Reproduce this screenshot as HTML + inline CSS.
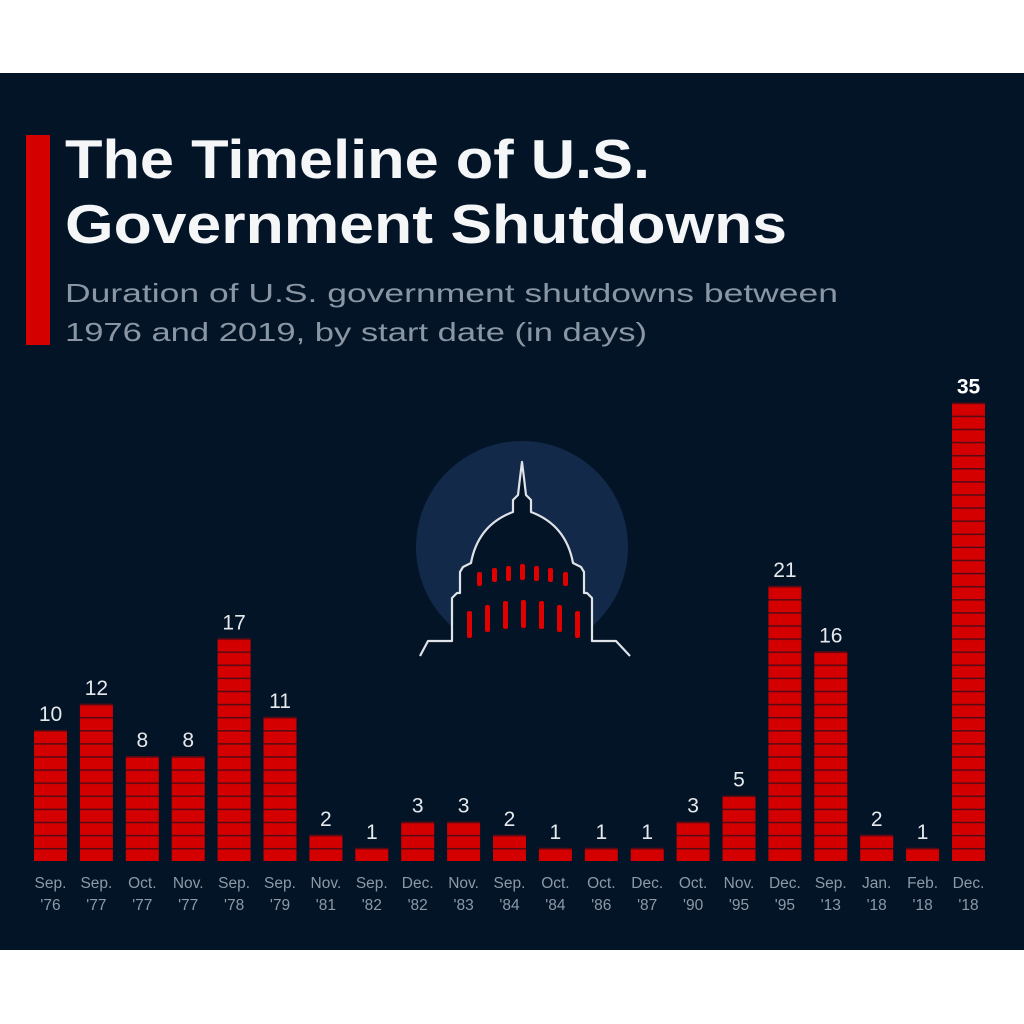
<!DOCTYPE html>
<html><head><meta charset="utf-8"><style>
html,body{margin:0;padding:0;background:#fff;}
svg{display:block;}
</style></head><body>
<svg width="1024" height="1024" viewBox="0 0 1024 1024" xmlns="http://www.w3.org/2000/svg" font-family="'Liberation Sans', sans-serif">
<defs>
<pattern id="seg" x="0" y="861" width="40" height="13.1" patternUnits="userSpaceOnUse">
<rect x="0" y="0" width="40" height="13.1" fill="#d40000"/>
<rect x="0" y="0" width="40" height="1.6" fill="#5a0a14"/>
</pattern>
</defs>
<rect x="0" y="73" width="1024" height="877" fill="#031427"/>
<rect x="26" y="135" width="24" height="210" fill="#d40000"/>
<text x="65" y="178" font-size="55" font-weight="bold" fill="#f4f6f8" textLength="585" lengthAdjust="spacingAndGlyphs">The Timeline of U.S.</text>
<text x="65" y="243" font-size="55" font-weight="bold" fill="#f4f6f8" textLength="722" lengthAdjust="spacingAndGlyphs">Government Shutdowns</text>
<text x="65" y="302" font-size="26" fill="#8a96a3" textLength="773" lengthAdjust="spacingAndGlyphs">Duration of U.S. government shutdowns between</text>
<text x="65" y="341" font-size="26" fill="#8a96a3" textLength="582" lengthAdjust="spacingAndGlyphs">1976 and 2019, by start date (in days)</text>
<circle cx="522" cy="547" r="106" fill="#13294a"/>
<path d="M420,656 L428,641 L452,641 L452,598 L457,593 L460,593 L460,572 L463,567 L471,563 Q478,525 513,512 L513,500 L518,495 L520,478 L522,462 L524,478 L526,495 L531,500 L531,512 Q566,525 573,563 L581,567 L584,572 L584,593 L587,593 L592,598 L592,641 L616,641 L630,656" fill="#031427" stroke="#dfe3e8" stroke-width="2.2" stroke-linejoin="round"/>
<g fill="#e00000">
<rect x="477" y="572" width="5" height="14" rx="2"/><rect x="492" y="568" width="5" height="14" rx="2"/><rect x="506" y="566" width="5" height="15" rx="2"/><rect x="520" y="564" width="5" height="16" rx="2"/><rect x="534" y="566" width="5" height="15" rx="2"/><rect x="548" y="568" width="5" height="14" rx="2"/><rect x="563" y="572" width="5" height="14" rx="2"/>
<rect x="467" y="611" width="5" height="27" rx="2"/><rect x="485" y="605" width="5" height="27" rx="2"/><rect x="503" y="601" width="5" height="28" rx="2"/><rect x="521" y="600" width="5" height="28" rx="2"/><rect x="539" y="601" width="5" height="28" rx="2"/><rect x="557" y="605" width="5" height="27" rx="2"/><rect x="575" y="611" width="5" height="27" rx="2"/>
</g>
<g id="bars"></g>
<g font-size="21" fill="#e6e9ec" text-anchor="middle" id="vals"></g>
<g font-size="15.5" fill="#8d99a6" text-anchor="middle" id="cats"></g>
<script>
var d=[[10,"Sep.","'76"],[12,"Sep.","'77"],[8,"Oct.","'77"],[8,"Nov.","'77"],[17,"Sep.","'78"],[11,"Sep.","'79"],[2,"Nov.","'81"],[1,"Sep.","'82"],[3,"Dec.","'82"],[3,"Nov.","'83"],[2,"Sep.","'84"],[1,"Oct.","'84"],[1,"Oct.","'86"],[1,"Dec.","'87"],[3,"Oct.","'90"],[5,"Nov.","'95"],[21,"Dec.","'95"],[16,"Sep.","'13"],[2,"Jan.","'18"],[1,"Feb.","'18"],[35,"Dec.","'18"]];
var ns="http://www.w3.org/2000/svg",B=document.getElementById("bars"),V=document.getElementById("vals"),C=document.getElementById("cats");
function el(t,a,p,txt){var e=document.createElementNS(ns,t);for(var k in a)e.setAttribute(k,a[k]);if(txt)e.textContent=txt;p.appendChild(e);}
d.forEach(function(r,i){var x=34+i*45.9,h=r[0]*13.1,top=861-h;
el("rect",{x:x,y:top,width:33,height:h,fill:"url(#seg)"},B);
var a={x:x+16.5,y:top-9};if(i==20){a["font-weight"]="bold";a.fill="#fff";}
el("text",a,V,String(r[0]));
el("text",{x:x+16.5,y:888},C,r[1]);el("text",{x:x+16.5,y:910},C,r[2]);});
</script>
</svg>
</body></html>
